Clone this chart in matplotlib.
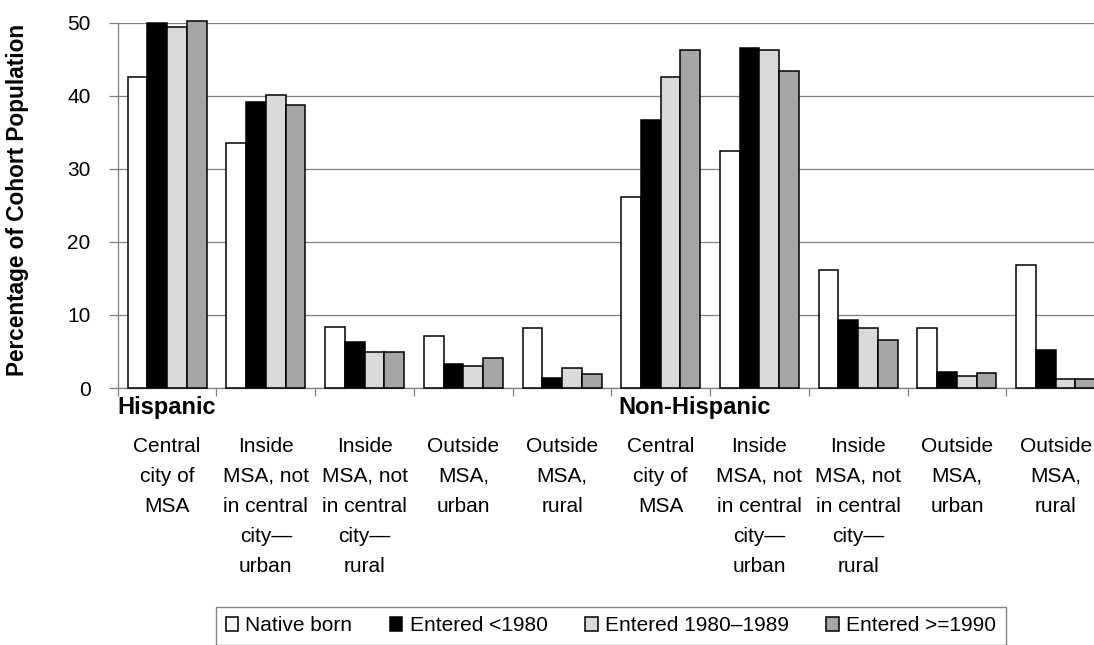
import numpy as np
import matplotlib
matplotlib.use("Agg")
import matplotlib.pyplot as plt
from matplotlib.patches import Patch
from matplotlib.transforms import blended_transform_factory

plt.rcParams['font.family'] = ['Liberation Sans', 'DejaVu Sans']

# data
categories = [
    "Central\ncity of\nMSA",
    "Inside\nMSA, not\nin central\ncity\u2014\nurban",
    "Inside\nMSA, not\nin central\ncity\u2014\nrural",
    "Outside\nMSA,\nurban",
    "Outside\nMSA,\nrural",
    "Central\ncity of\nMSA",
    "Inside\nMSA, not\nin central\ncity\u2014\nurban",
    "Inside\nMSA, not\nin central\ncity\u2014\nrural",
    "Outside\nMSA,\nurban",
    "Outside\nMSA,\nrural",
]
groups = ["Hispanic", "Non-Hispanic"]
series = ["Native born", "Entered <1980", "Entered 1980\u20131989", "Entered >=1990"]
native_born = [42.6, 33.6, 8.4, 7.1, 8.2, 26.2, 32.5, 16.1, 8.2, 16.9]
entered_pre1980 = [50.0, 39.1, 6.3, 3.3, 1.4, 36.7, 46.5, 9.3, 2.2, 5.2]
entered_1980s = [49.4, 40.1, 4.9, 3.0, 2.7, 42.6, 46.2, 8.2, 1.6, 1.3]
entered_1990on = [50.3, 38.8, 4.9, 4.1, 1.9, 46.2, 43.4, 6.6, 2.1, 1.3]
colors = ["#ffffff", "#000000", "#d9d9d9", "#a6a6a6"]

values = [native_born, entered_pre1980, entered_1980s, entered_1990on]

fig = plt.figure(figsize=(10.94, 6.45), dpi=100)
ax = fig.add_axes([0.1076, 0.3984, 0.9025, 0.5664])

x = np.arange(len(categories)) + 0.5
w = 0.2
for i, (vals, col) in enumerate(zip(values, colors)):
    ax.bar(x + (i - 1.5) * w, vals, width=w, color=col, edgecolor="black",
           linewidth=1.1, clip_on=False, zorder=3)

ax.set_xlim(0, len(categories))
ax.set_ylim(0, 50)
ax.set_yticks(np.arange(0, 51, 10))
ax.yaxis.grid(True, color="#7f7f7f", linewidth=0.9, zorder=0)
ax.set_axisbelow(True)
ax.set_xticks(np.arange(0, len(categories) + 1))
ax.set_xticklabels([])
ax.tick_params(axis="x", length=6, color="#7f7f7f", width=0.9)
ax.tick_params(axis="y", length=6.5, color="#7f7f7f", width=0.9, labelsize=15, pad=13)
for s in ["top", "right"]:
    ax.spines[s].set_visible(False)
for s in ["left", "bottom"]:
    ax.spines[s].set_color("#7f7f7f")
    ax.spines[s].set_linewidth(0.9)

trans = blended_transform_factory(ax.transData, ax.transAxes)
for xi, lab in zip(x, categories):
    ax.text(xi, -0.134, lab, transform=trans, ha="center", va="top",
            fontsize=15, multialignment="center", linespacing=1.73)
ax.text(0.0, -0.022, groups[0], transform=trans, ha="left", va="top",
        fontsize=17, fontweight="bold")
ax.text(5.07, -0.022, groups[1], transform=trans, ha="left", va="top",
        fontsize=17, fontweight="bold")

fig.text(0.016, 0.69, "Percentage of Cohort Population", rotation=90,
         ha="center", va="center", fontsize=16.3, fontweight="bold")

handles = [Patch(facecolor=c, edgecolor="black", linewidth=1.1) for c in colors]
leg = fig.legend(handles, series, loc="upper center", bbox_to_anchor=(0.5584, 0.0589),
                 ncol=4, fontsize=15, frameon=True, fancybox=False,
                 handlelength=0.6, handleheight=0.6, handletextpad=0.35,
                 columnspacing=1.8, borderaxespad=0, borderpad=0.45)
leg.get_frame().set_edgecolor("#666666")
leg.get_frame().set_linewidth(1.0)

fig.savefig("out.png", dpi=100)
